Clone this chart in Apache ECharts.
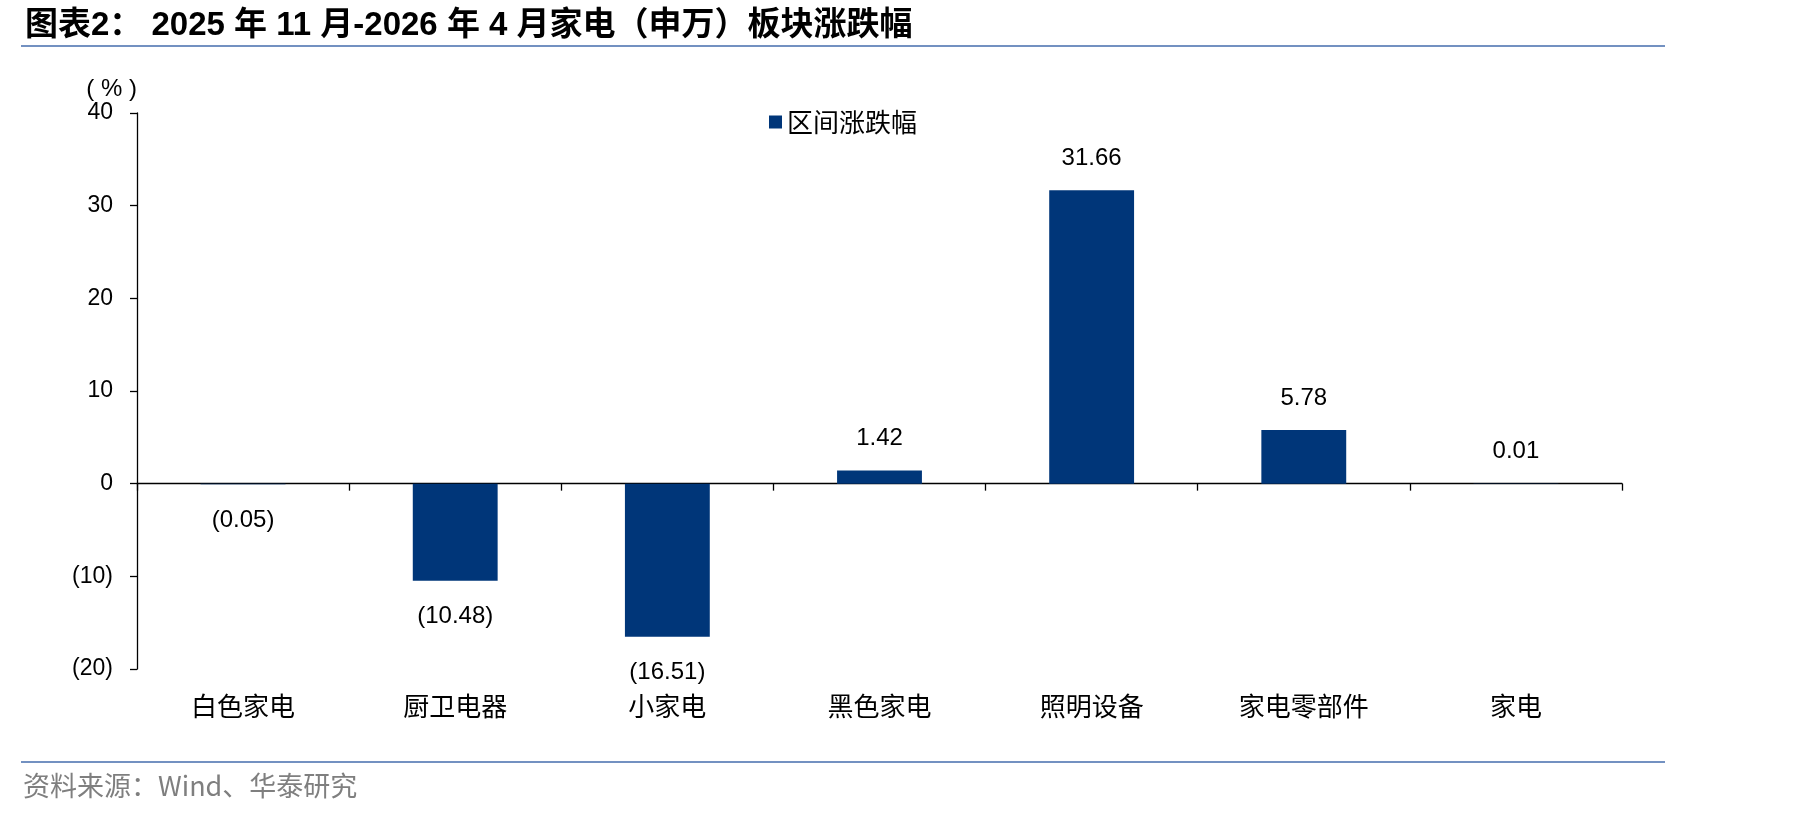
<!DOCTYPE html>
<html>
<head>
<meta charset="utf-8">
<script src="https://cdn.jsdelivr.net/npm/echarts@6/dist/echarts.min.js"></script>
<style>
  html, body { margin: 0; padding: 0; background: #fff; }
  #chart { width: 1819px; height: 817px; }
</style>
</head>
<body>
<div id="chart"></div>
<script>
// 板块名称
const categories = ['白色家电', '厨卫电器', '小家电', '黑色家电', '照明设备', '家电零部件', '家电']
// 区间涨跌幅 (%)
const changes = [-0.05, -10.48, -16.51, 1.42, 31.66, 5.78, 0.01]
const seriesName = '区间涨跌幅'

const barColor = '#003679'
const cjk = "'Noto Sans CJK SC', sans-serif"
const latin = "'Liberation Sans', Arial, sans-serif"

// 负数用括号表示
function fmtNum(v, digits) {
  const s = Math.abs(v).toFixed(digits)
  return v < 0 ? '(' + s + ')' : s
}

const chart = echarts.init(document.getElementById('chart'))

chart.setOption({
  animation: false,
  backgroundColor: '#fff',
  title: {
    text: '图表2： 2025 年 11 月-2026 年 4 月家电（申万）板块涨跌幅',
    left: 20,
    top: 4,
    textStyle: {
      fontFamily: "'Liberation Sans', 'Noto Sans CJK SC', sans-serif",
      fontWeight: 'bold',
      fontSize: 33,
      color: '#000'
    }
  },
  legend: {
    left: 764,
    top: 104,
    icon: 'rect',
    itemWidth: 13,
    itemHeight: 13,
    itemGap: 10,
    textStyle: { fontFamily: cjk, fontSize: 26, color: '#000' },
    data: [seriesName]
  },
  grid: { left: 137, right: 197, top: 113, bottom: 148 },
  xAxis: [
    {
      type: 'category',
      data: categories,
      axisLine: { onZero: true, lineStyle: { color: '#000', width: 1.3 } },
      axisTick: { show: true, length: 7, lineStyle: { color: '#000', width: 1.3 } },
      axisLabel: { show: false }
    },
    {
      type: 'category',
      data: categories,
      position: 'bottom',
      axisLine: { show: false },
      axisTick: { show: false },
      axisLabel: {
        show: true,
        margin: 24,
        fontFamily: cjk,
        fontSize: 26,
        color: '#000'
      }
    }
  ],
  yAxis: {
    type: 'value',
    min: -20,
    max: 40,
    interval: 10,
    name: '( % )',
    nameLocation: 'end',
    nameGap: -1,
    nameTextStyle: { fontFamily: latin, fontSize: 24, color: '#000', align: 'right' },
    axisLine: { show: true, lineStyle: { color: '#000', width: 1.3 } },
    axisTick: { show: true, length: 7, lineStyle: { color: '#000', width: 1.3 } },
    splitLine: { show: false },
    axisLabel: {
      margin: 24,
      fontFamily: latin,
      fontSize: 23,
      color: '#000',
      formatter: v => fmtNum(v, 0)
    }
  },
  series: [{
    name: seriesName,
    type: 'bar',
    xAxisIndex: 0,
    barWidth: '40%',
    itemStyle: { color: barColor },
    data: changes.map(v => ({
      value: v,
      label: { position: v < 0 ? 'bottom' : 'top', distance: v < 0 ? 24 : 20 }
    })),
    label: {
      show: true,
      fontFamily: latin,
      fontSize: 24,
      color: '#000',
      formatter: p => fmtNum(p.value, 2)
    }
  }],
  graphic: [
    { type: 'line', shape: { x1: 21, y1: 46, x2: 1665, y2: 46 }, style: { stroke: '#7391c1', lineWidth: 2 } },
    { type: 'line', shape: { x1: 21, y1: 762, x2: 1665, y2: 762 }, style: { stroke: '#7391c1', lineWidth: 2 } },
    {
      type: 'text',
      left: 23,
      top: 772,
      style: {
        text: '资料来源：Wind、华泰研究',
        fontFamily: cjk,
        fontSize: 27,
        fill: '#7f7f7f'
      }
    }
  ]
})
</script>
</body>
</html>
